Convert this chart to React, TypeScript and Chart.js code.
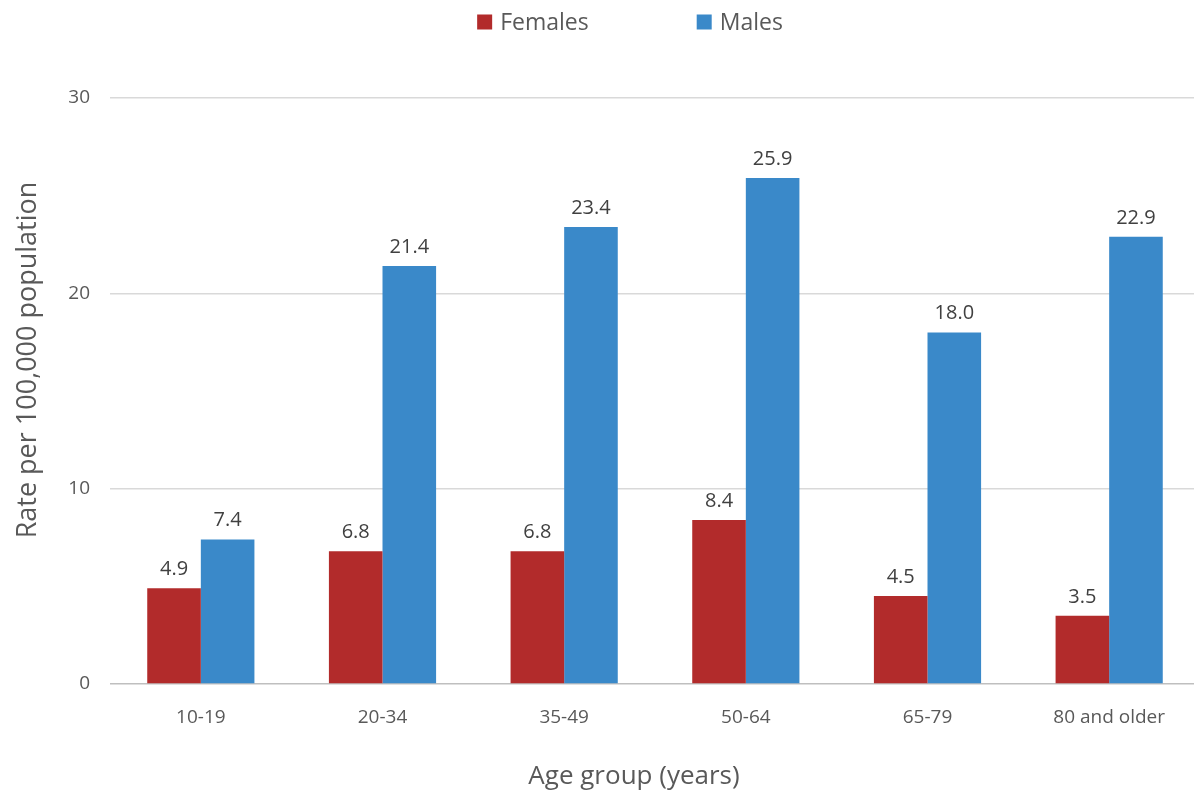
import React, { useEffect, useRef } from "react";
import { Chart, registerables } from "chart.js";

Chart.register(...registerables);

const categories = ["10-19", "20-34", "35-49", "50-64", "65-79", "80 and older"];
const females = [4.9, 6.8, 6.8, 8.4, 4.5, 3.5];
const males = [7.4, 21.4, 23.4, 25.9, 18.0, 22.9];
const seriesNames = ["Females", "Males"];
const yTicks = [0, 10, 20, 30];
const yTitle = "Rate per 100,000 population";
const xTitle = "Age group (years)";

const FONT = "'Open Sans', 'Noto Sans', sans-serif";
const RED = "#B22B2B";
const BLUE = "#3A89C9";
const TEXT = "#595959";

const valueLabels = {
  id: "valueLabels",
  afterDatasetsDraw(chart: any) {
    const ctx = chart.ctx;
    ctx.save();
    ctx.font = `20px ${FONT}`;
    ctx.fillStyle = "#404040";
    ctx.textAlign = "center";
    ctx.textBaseline = "alphabetic";
    chart.data.datasets.forEach((ds: any, i: number) => {
      const meta = chart.getDatasetMeta(i);
      meta.data.forEach((el: any, j: number) => {
        const v = ds.data[j] as number;
        ctx.fillText(v.toFixed(1), el.x, el.y - 13);
      });
    });
    ctx.restore();
  },
};

const axisTitles = {
  id: "axisTitles",
  afterDraw(chart: any) {
    const ctx = chart.ctx;
    ctx.save();
    ctx.fillStyle = TEXT;
    ctx.textAlign = "center";
    ctx.textBaseline = "middle";
    ctx.font = `26px ${FONT}`;
    ctx.fillText(xTitle, 634, 777);
    ctx.translate(28, 360);
    ctx.rotate(-Math.PI / 2);
    ctx.font = `27px ${FONT}`;
    ctx.fillText(yTitle, 0, 0);
    ctx.restore();
  },
};

const topLegend = {
  id: "topLegend",
  afterDraw(chart: any) {
    const ctx = chart.ctx;
    ctx.save();
    ctx.font = `23px ${FONT}`;
    ctx.textBaseline = "middle";
    ctx.textAlign = "left";
    const box = 15;
    const gap = 8;
    const spacing = 108;
    const items = chart.data.datasets.map((ds: any) => ({
      label: ds.label,
      color: ds.backgroundColor,
      w: box + gap + ctx.measureText(ds.label).width,
    }));
    const total = items.reduce((s: number, it: any) => s + it.w, 0) + spacing * (items.length - 1);
    let x = 630 - total / 2;
    const cy = 22;
    items.forEach((it: any) => {
      ctx.fillStyle = it.color;
      ctx.fillRect(x, cy - box / 2, box, box);
      ctx.fillStyle = TEXT;
      ctx.fillText(it.label, x + box + gap, cy + 1);
      x += it.w + spacing;
    });
    ctx.restore();
  },
};

export default function App() {
  const ref = useRef<HTMLCanvasElement>(null);

  useEffect(() => {
    if (!ref.current) return;
    const chart = new Chart(ref.current, {
      type: "bar",
      data: {
        labels: categories,
        datasets: [
          { label: seriesNames[0], data: females, backgroundColor: RED, borderWidth: 0 },
          { label: seriesNames[1], data: males, backgroundColor: BLUE, borderWidth: 0 },
        ],
      },
      options: {
        animation: false,
        responsive: false,
        devicePixelRatio: 1,
        layout: { padding: { top: 98, right: 0, bottom: 0, left: 0 } },
        datasets: { bar: { categoryPercentage: 0.59, barPercentage: 1.0 } },
        plugins: {
          legend: { display: false },
          tooltip: { enabled: false },
        },
        scales: {
          x: {
            grid: { display: false },
            border: { display: false },
            ticks: { color: TEXT, font: { family: FONT, size: 19 }, padding: 14 },
            afterFit(scale: any) {
              scale.height = 112;
            },
          },
          y: {
            min: 0,
            max: 30,
            afterBuildTicks(scale: any) {
              scale.ticks = yTicks.map((v) => ({ value: v }));
            },
            grid: {
              drawTicks: false,
              color: (c: any) => (c.tick && c.tick.value === 0 ? "#BFBFBF" : "#D9D9D9"),
              lineWidth: 1.5,
            },
            border: { display: false },
            ticks: { color: TEXT, font: { family: FONT, size: 19 }, padding: 20 },
            afterFit(scale: any) {
              scale.width = 110;
            },
          },
        },
      },
      plugins: [valueLabels, axisTitles, topLegend],
    });
    return () => chart.destroy();
  }, []);

  return (
    <div style={{ position: "absolute", left: 0, top: 0, width: 1194, height: 796, background: "#fff", overflow: "hidden" }}>
      <canvas ref={ref} width={1200} height={796} style={{ width: 1200, height: 796, display: "block" }} />
    </div>
  );
}
